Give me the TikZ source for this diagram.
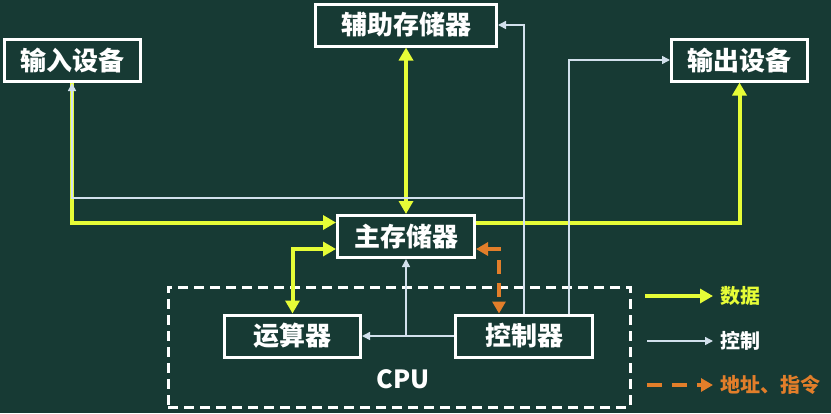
\documentclass[tikz,border=0pt]{standalone}
\usepackage{fontspec}
\setmainfont{Noto Sans CJK SC}
\usetikzlibrary{positioning}
\usetikzlibrary{arrows.meta}

\definecolor{bg}{RGB}{23,58,52}
\definecolor{datayellow}{RGB}{230,252,55}
\definecolor{ctrlwhite}{RGB}{210,224,236}
\definecolor{addrorange}{RGB}{226,126,42}
\definecolor{boxnavy}{RGB}{28,32,92}

\begin{document}
\begin{tikzpicture}[x=1pt, y=-1pt,
box/.style={draw=white, line width=3pt, fill=bg, text=white, inner sep=0pt,
  minimum height=42pt, font=\bfseries\fontsize{26}{26}\selectfont,
  append after command={\pgfextra{\draw[boxnavy, line width=1.6pt]
    ([shift={(2.3pt,-2.3pt)}]\tikzlastnode.north west) rectangle
    ([shift={(-2.3pt,2.3pt)}]\tikzlastnode.south east);}}},
datapath/.style={datayellow, line width=4pt, -{Triangle[length=13pt,width=14pt]}},
ctrlpath/.style={ctrlwhite, line width=1.5pt, -{Triangle[length=8pt,width=8pt]}},
addrpath/.style={addrorange, line width=4pt, dash pattern=on 14pt off 9pt,
  -{Triangle[length=12pt,width=13pt]}},
legend/.style={inner sep=0pt, anchor=west, font=\bfseries\fontsize{20}{20}\selectfont}
]
\fill[bg] (0,0) rectangle (831,413);
\useasboundingbox (0,0) rectangle (831,413);

%create nodes
\node[box, minimum width=136pt] (inp) at (72,60.5) {输入设备};
\node[box, minimum width=181pt] (aux) at (406,25) {辅助存储器};
\node[box, minimum width=136pt] (outp) at (739.5,60) {输出设备};
\node[box, minimum width=137pt] (mem) at (406,236.5) {主存储器};
\node[box, minimum width=136pt] (alu) at (292.5,336) {运算器};
\node[box, minimum width=137pt] (ctl) at (524,336) {控制器};

\node[draw=white, line width=3pt, dash pattern=on 10pt off 6pt,
  minimum width=462pt, minimum height=120pt] (cpu) at (399,347) {};
\node[text=white, font=\bfseries\fontsize{25}{25}\selectfont] (cpulabel) at (403,379) {CPU};

\coordinate (cbr) at (ctl.north |- 0,198);
\coordinate (cout) at (569,314);

%draw paths
\draw[datapath] (inp.south) |- ([yshift=14pt]mem.west);
\draw[datapath, {Triangle[length=13pt,width=14pt]}-{Triangle[length=13pt,width=14pt]}] (aux) -- (mem);
\draw[datapath] ([yshift=14pt]mem.east) -| (outp.south);
\draw[datapath, {Triangle[length=13pt,width=14pt]}-{Triangle[length=13pt,width=14pt]}] ([yshift=-12.5pt]mem.west) -| (alu.north);

\draw[ctrlpath] (ctl.north) |- (aux.east);
\draw[ctrlpath] (cbr) -| (inp.south);
\draw[ctrlpath] (cout) |- (outp.west);
\draw[ctrlpath] (ctl.west) -- (alu.east);
\draw[ctrlpath] (mem.south |- ctl.west) -- (mem.south);

\draw[addrpath, {Triangle[length=12pt,width=13pt]}-{Triangle[length=12pt,width=13pt]}] ([yshift=-12.5pt]mem.east) -| ([xshift=-25pt]ctl.north);

%legend
\coordinate (d1) at (645,296);
\coordinate (d2) at (713,296);
\coordinate (c1) at (647,341);
\coordinate (c2) at (713,341);
\coordinate (a1) at (647,385);
\coordinate (a2) at (713,385);

\draw[datapath] (d1) -- (d2);
\draw[ctrlpath] (c1) -- (c2);
\draw[addrpath, dash pattern=on 15pt off 10pt] (a1) -- (a2);

\node[legend, text=datayellow, right=7pt of d2] (datalabel) {数据};
\node[legend, text=white, right=7pt of c2] (ctllabel) {控制};
\node[legend, text=addrorange, right=7pt of a2] (addrlabel) {地址、指令};

\end{tikzpicture}
\end{document}
